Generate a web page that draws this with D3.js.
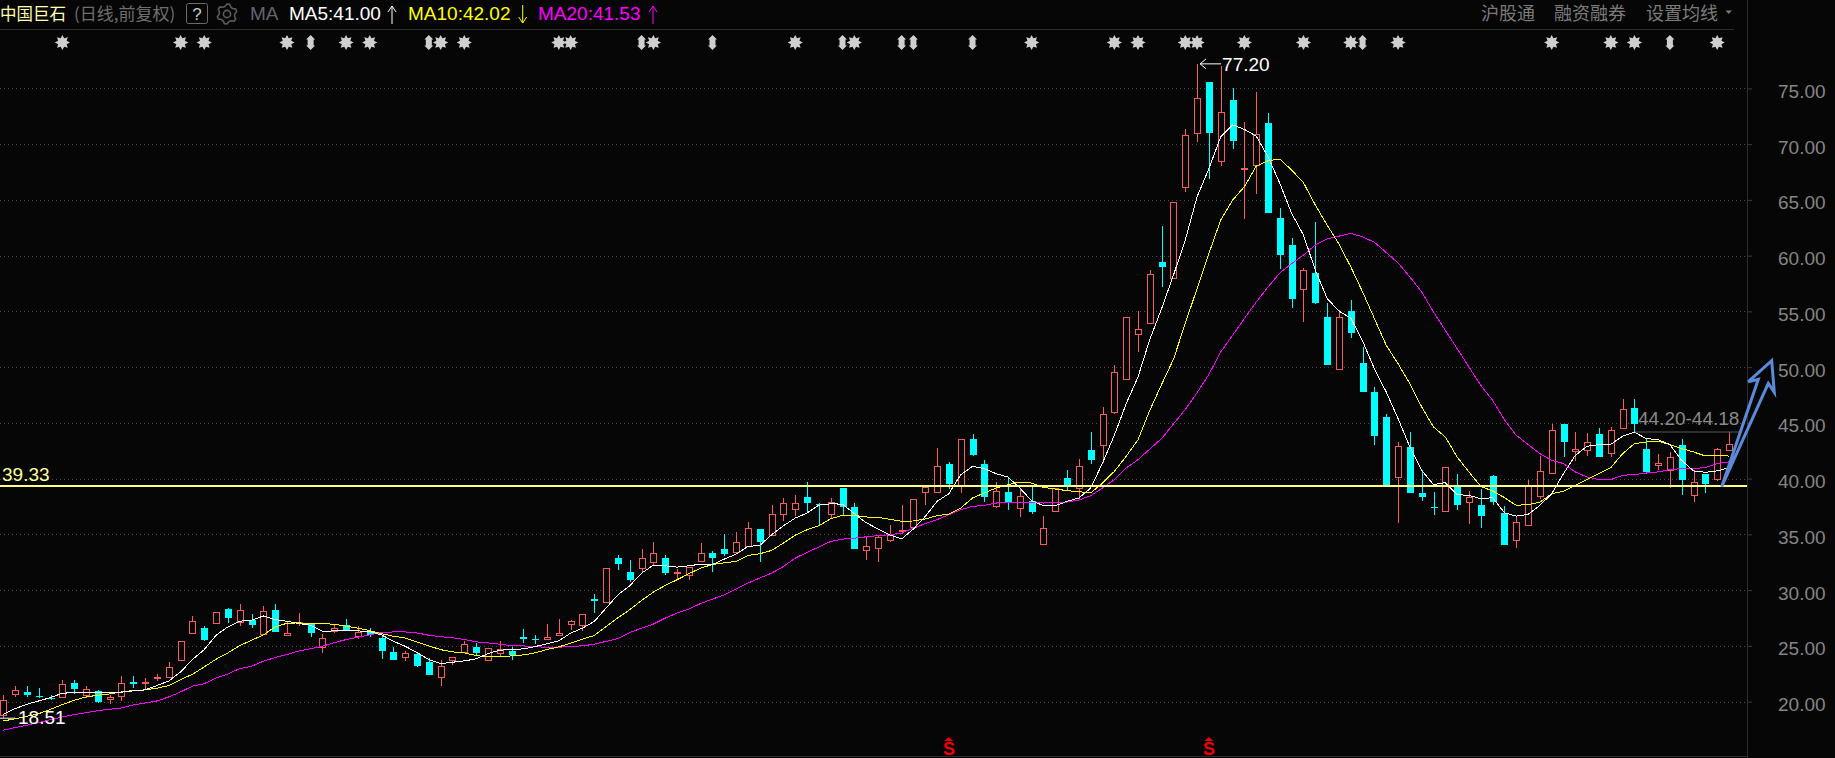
<!DOCTYPE html>
<html lang="zh-CN">
  <head>
    <meta charset="UTF-8" />
    <title>中国巨石 日线</title>
    <script src="https://d3js.org/d3.v7.min.js"></script>
    <style>
      html, body { margin: 0; padding: 0; background: #060606; overflow: hidden; }
      svg { display: block; }
      text { font-family: "Liberation Sans", Arial, sans-serif; }
      .cjk { font-family: "Noto Sans CJK SC", sans-serif; }
    </style>
  </head>
  <body>
    <svg width="1835" height="758"></svg>

    <script>
      // daily candles
      const opens = [
        18.80,20.72,20.84,20.54,20.33,20.42,21.64,20.60,20.93,20.27,
        20.51,21.73,21.67,22.15,22.21,23.77,26.16,26.58,27.06,28.28,
        27.18,27.36,26.10,28.19,25.98,27.06,26.94,24.93,26.37,26.91,
        25.89,26.28,25.74,24.49,24.01,24.31,23.59,22.21,23.71,24.49,
        24.94,23.71,24.37,24.58,25.75,25.57,25.63,26.02,26.92,26.83,
        29.22,28.89,32.90,31.64,31.94,32.48,32.90,31.49,31.32,32.57,
        33.35,33.71,33.38,33.98,35.50,34.96,36.79,37.24,38.37,37.74,
        36.79,39.18,37.48,33.56,33.74,34.55,35.27,35.63,38.77,38.77,
        41.34,39.46,43.58,41.34,37.51,38.83,37.33,37.99,34.10,37.06,
        40.08,39.13,42.59,43.01,46.00,48.97,53.00,53.99,59.46,57.93,
        66.09,70.93,75.57,68.42,73.95,67.79,68.12,71.89,63.37,60.95,
        56.94,58.44,54.47,49.83,55.00,50.34,47.74,45.50,40.15,42.81,
        38.68,37.49,37.10,39.31,37.90,37.60,40.21,36.89,34.50,35.78,
        38.45,40.57,44.87,42.51,42.60,43.98,42.30,44.54,46.31,42.63,
        41.26,40.81,42.99,38.56,40.39,39.91,42.60
      ];
      const closes = [
        20.18,21.08,20.60,20.48,20.27,21.58,21.11,21.17,19.94,20.45,
        21.70,21.58,21.79,22.24,23.14,25.47,27.27,25.50,28.07,27.50,
        28.25,26.88,28.16,26.25,26.19,27.18,26.16,25.74,26.64,26.37,
        26.25,25.98,24.54,23.74,24.40,23.23,22.45,23.23,24.01,25.18,
        24.40,24.82,24.73,24.25,25.57,25.51,25.81,26.17,27.22,27.85,
        29.04,31.97,32.36,30.93,32.87,33.32,31.55,31.61,32.06,33.32,
        32.90,33.23,34.31,35.56,34.34,36.82,37.80,37.80,37.83,37.65,
        37.86,37.48,33.71,33.95,34.76,34.97,35.39,38.17,39.25,41.13,
        39.54,43.55,42.15,38.38,38.89,37.90,38.44,37.03,35.57,39.16,
        39.37,41.13,41.70,45.80,49.59,54.53,53.45,58.39,58.98,64.77,
        70.78,74.10,70.99,72.85,70.28,67.85,70.87,63.82,60.05,56.10,
        58.67,55.74,50.16,54.53,53.03,47.74,43.79,39.31,42.96,38.68,
        38.32,37.37,41.07,37.60,38.38,36.62,37.87,34.02,36.14,39.31,
        40.72,44.40,43.26,42.69,43.32,41.91,44.40,46.28,44.90,40.57,
        41.44,41.97,39.88,39.73,39.49,42.63,43.14
      ];
      const highs = [
        20.57,21.38,21.38,21.20,20.57,21.91,21.91,21.38,21.02,20.60,
        22.27,22.27,22.09,22.51,23.53,25.47,27.65,26.76,28.07,28.37,
        28.73,27.83,28.55,28.73,27.18,27.92,27.06,26.04,27.00,27.39,
        26.76,26.58,25.95,24.87,24.51,24.37,23.95,23.71,24.01,25.45,
        25.30,24.82,25.45,24.94,26.55,25.93,27.00,27.45,27.34,27.85,
        29.67,31.97,33.14,32.72,33.71,34.34,33.14,31.88,32.06,34.25,
        33.53,35.05,35.23,36.13,35.50,37.65,38.28,38.55,39.72,37.83,
        38.25,39.18,37.83,34.76,34.97,35.84,37.66,38.17,39.46,42.77,
        41.52,43.55,44.03,41.70,39.69,40.08,39.10,39.28,36.67,39.16,
        40.80,41.79,44.21,46.40,50.16,54.53,55.00,58.68,62.65,64.77,
        71.35,77.20,75.57,77.00,75.03,71.98,74.67,72.79,64.27,61.57,
        58.88,63.01,55.72,55.10,55.99,51.78,48.19,45.77,43.26,44.15,
        40.74,38.77,41.07,40.38,38.86,39.04,40.30,37.52,36.62,39.85,
        42.00,44.87,44.93,44.16,44.07,44.51,44.60,47.12,47.12,43.53,
        42.18,42.36,43.53,40.75,40.39,42.72,44.16
      ];
      const lows = [
        18.51,20.42,20.42,20.30,20.18,20.36,20.72,20.33,19.88,19.79,
        20.06,21.26,21.08,21.85,22.15,23.77,26.04,25.41,26.97,27.03,
        26.76,26.58,26.04,26.22,25.98,26.76,25.77,24.34,26.13,26.34,
        25.59,25.77,23.80,23.71,23.62,23.08,22.36,21.38,23.27,24.49,
        24.22,23.71,24.01,23.77,25.30,25.21,25.63,26.02,26.44,26.29,
        27.97,28.89,31.82,30.75,31.64,32.18,31.38,31.02,30.93,32.57,
        31.64,33.08,33.38,33.98,32.54,34.96,36.22,36.61,36.94,35.86,
        36.37,36.73,33.71,32.73,32.55,34.34,35.00,35.63,37.66,38.77,
        39.10,38.74,42.06,37.93,37.39,37.21,36.58,36.85,34.10,37.06,
        38.92,38.11,41.34,41.40,45.80,48.97,51.33,53.99,57.19,57.93,
        65.73,70.19,66.87,68.03,69.56,63.28,65.52,63.82,58.79,55.30,
        54.04,55.65,50.16,49.83,52.58,47.74,42.99,39.31,35.99,38.68,
        37.96,36.71,37.10,37.16,35.90,35.54,37.60,34.02,33.75,35.78,
        38.15,40.57,41.91,41.58,42.00,41.91,41.91,44.54,44.22,40.39,
        40.75,39.13,38.50,37.88,38.68,39.76,42.60
      ];

      // moving averages
      const ma5 = [
        18.86,19.37,19.76,20.06,20.36,20.75,20.81,20.81,20.78,20.78,
        20.84,20.96,21.05,21.44,21.85,22.66,23.77,24.66,25.95,26.70,
        27.21,27.30,27.68,27.36,27.21,27.00,26.85,26.31,26.34,26.37,
        26.34,26.28,25.98,25.41,24.96,24.40,23.77,23.41,23.53,23.65,
        23.83,24.31,24.61,24.67,24.73,24.94,25.18,25.45,26.14,26.59,
        27.19,28.39,29.58,30.39,31.52,32.24,32.18,32.06,32.18,32.33,
        32.30,32.78,33.23,33.92,34.01,34.96,35.77,36.46,36.91,37.62,
        37.74,37.71,36.85,36.05,35.49,34.95,34.59,35.48,36.61,37.96,
        38.65,40.35,41.10,40.89,40.44,40.14,39.16,38.02,37.57,37.57,
        37.96,38.26,39.16,41.40,43.90,46.72,49.12,52.48,55.26,58.25,
        61.40,65.28,67.82,70.66,71.74,71.32,70.72,68.87,66.48,63.79,
        61.84,58.70,56.16,55.03,54.40,52.34,49.86,47.77,45.38,42.84,
        40.74,39.46,39.64,38.56,38.50,38.20,38.29,36.94,36.63,36.79,
        37.60,38.65,40.45,42.09,42.90,43.05,43.08,43.80,44.16,43.59,
        43.50,43.05,41.64,40.69,40.57,40.69,40.97
      ];
      const ma10 = [
        18.27,18.45,18.68,18.92,19.31,19.73,20.12,20.42,20.57,20.69,
        20.87,20.99,21.05,21.20,21.44,21.97,22.45,23.11,23.80,24.37,
        25.02,25.50,25.98,26.70,27.03,27.06,27.00,27.00,26.94,26.76,
        26.58,26.37,26.10,25.86,25.71,25.35,25.00,24.66,24.46,24.37,
        24.13,24.01,24.01,24.10,24.19,24.37,24.67,24.91,25.25,25.60,
        25.93,26.74,27.52,28.24,29.07,29.82,30.42,30.93,31.47,31.97,
        32.30,32.45,32.57,33.11,33.26,33.56,34.22,34.93,35.41,35.77,
        36.40,36.70,36.70,36.56,36.52,36.35,36.17,36.20,36.38,36.67,
        36.82,37.36,38.26,38.71,39.16,39.46,39.69,39.60,39.22,39.07,
        38.92,38.83,38.71,39.60,40.65,42.00,43.49,46.13,48.46,50.70,
        53.92,57.06,60.20,63.19,64.98,66.18,68.03,68.51,68.66,67.67,
        66.54,64.54,62.74,61.04,59.00,56.75,54.36,51.96,50.31,48.52,
        46.43,44.63,43.73,41.94,40.59,39.31,38.89,38.30,37.60,37.68,
        37.88,38.65,38.86,39.40,39.94,40.45,40.99,42.24,43.14,43.29,
        43.35,43.05,42.69,42.39,42.03,42.09,42.02
      ];
      const ma20 = [
        17.43,17.67,17.88,18.12,18.39,18.62,18.83,19.01,19.19,19.31,
        19.43,19.70,19.88,20.06,20.42,20.87,21.38,21.61,22.12,22.48,
        22.96,23.17,23.62,23.95,24.22,24.54,24.75,24.96,25.29,25.56,
        25.77,25.98,26.19,26.25,26.25,26.16,25.95,25.82,25.72,25.57,
        25.36,25.27,25.15,25.00,25.00,24.91,24.88,24.88,24.95,25.00,
        25.15,25.40,25.66,26.20,26.59,26.95,27.49,27.94,28.30,28.80,
        29.19,29.58,30.12,30.63,31.08,31.52,32.12,32.87,33.38,33.86,
        34.37,34.57,34.66,34.78,34.89,34.97,35.12,35.57,35.96,36.32,
        36.76,37.21,37.51,37.60,37.81,37.90,37.90,37.87,37.81,37.90,
        37.90,38.08,38.47,39.16,39.90,40.95,41.70,42.65,43.60,44.90,
        46.20,47.70,49.36,51.36,52.85,54.35,55.84,57.19,58.45,59.28,
        60.05,60.95,61.49,61.75,61.99,61.69,61.20,60.28,59.35,58.09,
        56.74,54.95,53.30,51.66,50.01,48.37,47.02,45.28,43.88,43.07,
        42.24,41.64,41.35,40.60,40.15,39.91,39.91,40.30,40.36,40.51,
        40.60,40.81,40.90,40.90,40.99,41.35,41.50
      ];

      const priceTicks = [20, 25, 30, 35, 40, 45, 50, 55, 60, 65, 70, 75];
      const supportPrice = 39.33;
      // info markers along the top row and the red ones at the bottom (candle index)
      const starDays = [5, 15, 17, 24, 29, 31, 37, 39, 47, 48, 55, 67, 72, 87, 94, 96, 100, 101, 105, 110, 114, 118, 131, 136, 138, 145];
      const arrowDays = [26, 36, 54, 60, 71, 76, 77, 82, 115, 141];
      const dollarDays = [80, 102];
      const maLegend = [
        { label: "MA5:41.00", color: "#ffffff", dir: "up" },
        { label: "MA10:42.02", color: "#ffff00", dir: "down" },
        { label: "MA20:41.53", color: "#ff00ff", dir: "up" }
      ];

      const UP = "#f75c5c";
      const DOWN = "#00ffff";
      const BG = "#060606";
      const AXIS_X = 1747;

      const svg = d3.select("svg");

      const x = d3.scaleLinear().domain([0, opens.length - 1]).range([3.3, 1729]);
      const y = d3.scaleLinear().domain([20, 75]).range([701.6, 88.4]);
      const px = (i) => Math.round(x(i));

      // frame lines
      svg.append("line").attr("x1", 0).attr("x2", 1734).attr("y1", 29.5).attr("y2", 29.5).attr("stroke", "#2b2b2b");
      svg.append("line").attr("x1", 0).attr("x2", AXIS_X).attr("y1", 756.5).attr("y2", 756.5).attr("stroke", "#2b2b2b");
      svg.append("line").attr("x1", AXIS_X + 0.5).attr("x2", AXIS_X + 0.5).attr("y1", 0).attr("y2", 758).attr("stroke", "#2b2b2b");

      // grid
      svg.append("g")
        .selectAll("line")
        .data(priceTicks)
        .join("line")
        .attr("x1", 0)
        .attr("x2", AXIS_X - 2)
        .attr("y1", (d) => Math.round(y(d)) + 0.5)
        .attr("y2", (d) => Math.round(y(d)) + 0.5)
        .attr("stroke", "#4a4a4a")
        .attr("stroke-dasharray", "1 3");

      // right axis
      const axis = d3.axisRight(y)
        .tickValues(priceTicks)
        .tickSize(5)
        .tickPadding(26)
        .tickFormat(d3.format(".2f"));
      const axisG = svg.append("g").attr("transform", `translate(${AXIS_X},0)`).call(axis);
      axisG.select(".domain").remove();
      axisG.selectAll("line").attr("stroke", "#3a3a3a");
      axisG.selectAll("text")
        .attr("fill", "#858585")
        .attr("dy", "0.47em")
        .style("font-size", "19px")
        .style("font-family", '"Liberation Sans", Arial, sans-serif');

      // candles
      const days = d3.range(opens.length);
      const isUp = (i) => closes[i] >= opens[i];
      const candles = svg.append("g").attr("shape-rendering", "crispEdges");

      candles.selectAll(".wick-top")
        .data(days)
        .join("line")
        .attr("x1", (i) => px(i) + 0.5)
        .attr("x2", (i) => px(i) + 0.5)
        .attr("y1", (i) => y(highs[i]))
        .attr("y2", (i) => y(Math.max(opens[i], closes[i])))
        .attr("stroke", (i) => (isUp(i) ? UP : DOWN));
      candles.selectAll(".wick-low")
        .data(days)
        .join("line")
        .attr("x1", (i) => px(i) + 0.5)
        .attr("x2", (i) => px(i) + 0.5)
        .attr("y1", (i) => y(Math.min(opens[i], closes[i])))
        .attr("y2", (i) => y(lows[i]))
        .attr("stroke", (i) => (isUp(i) ? UP : DOWN));
      candles.selectAll("rect")
        .data(days)
        .join("rect")
        .attr("x", (i) => (isUp(i) ? px(i) - 2.5 : px(i) - 3))
        .attr("width", (i) => (isUp(i) ? 6 : 7))
        .attr("y", (i) => Math.round(y(Math.max(opens[i], closes[i]))) + (isUp(i) ? 0.5 : 0))
        .attr("height", (i) => Math.max(1, Math.round(Math.abs(y(opens[i]) - y(closes[i])))))
        .attr("fill", (i) => (isUp(i) ? BG : DOWN))
        .attr("stroke", (i) => (isUp(i) ? UP : "none"));

      // moving averages, hard edged like the trading terminal draws them
      const maLine = d3.line().x((d, i) => x(i)).y((d) => y(d));
      [[ma20, "#ff00ff"], [ma10, "#ffff00"], [ma5, "#ffffff"]].forEach(([values, color]) => {
        svg.append("path")
          .attr("d", maLine(values))
          .attr("fill", "none")
          .attr("stroke", color)
          .attr("stroke-width", 1)
          .attr("shape-rendering", "crispEdges");
      });

      // support line
      svg.append("line")
        .attr("x1", 0)
        .attr("x2", AXIS_X)
        .attr("y1", y(supportPrice))
        .attr("y2", y(supportPrice))
        .attr("stroke", "#ffff88")
        .attr("stroke-width", 2);
      svg.append("text")
        .attr("x", 2)
        .attr("y", y(supportPrice) - 5)
        .attr("fill", "#ffff99")
        .style("font-size", "19px")
        .text(supportPrice.toFixed(2));

      // high / low notes
      const hiY = y(77.2);
      svg.append("path")
        .attr("d", `M${x(101) + 9},${hiY - 5} L${x(101) + 3},${hiY} L${x(101) + 9},${hiY + 5} M${x(101) + 3},${hiY} H${x(101) + 24}`)
        .attr("fill", "none")
        .attr("stroke", "#ffffff");
      svg.append("text")
        .attr("x", x(101) + 25)
        .attr("y", hiY + 7)
        .attr("fill", "#ffffff")
        .style("font-size", "19px")
        .text("77.20");

      const loY = y(18.51);
      svg.append("line").attr("x1", 0).attr("x2", 15).attr("y1", loY).attr("y2", loY).attr("stroke", "#ffffff");
      svg.append("text")
        .attr("x", 18)
        .attr("y", loY + 6)
        .attr("fill", "#ffffff")
        .style("font-size", "19px")
        .text("18.51");

      // range note on the right
      svg.append("line")
        .attr("x1", 1635)
        .attr("x2", 1740)
        .attr("y1", y(44.18))
        .attr("y2", y(44.18))
        .attr("stroke", "#555555");
      svg.append("text")
        .attr("x", 1638)
        .attr("y", y(44.18) - 7)
        .attr("fill", "#8a8a8a")
        .style("font-size", "19px")
        .text("44.20-44.18");

      // top info markers
      const starPath = d3.lineRadial().curve(d3.curveLinearClosed)(
        d3.range(16).map((k) => [(k * Math.PI) / 8, k % 2 ? 4.6 : 7.6])
      );
      svg.append("g")
        .selectAll("path")
        .data(starDays)
        .join("path")
        .attr("d", starPath)
        .attr("transform", (d) => `translate(${x(d)},42.5)`)
        .attr("fill", "#cfcfcf");
      svg.append("g")
        .selectAll("path")
        .data(arrowDays)
        .join("path")
        .attr("d", "M0,-7.5 L4.5,-3 L3,-3 L3,3 L4.5,3 L0,7.5 L-4.5,3 L-3,3 L-3,-3 L-4.5,-3 Z")
        .attr("transform", (d) => `translate(${x(d)},42.5)`)
        .attr("fill", "#cfcfcf");

      // red markers at the bottom
      const dollars = svg.append("g").selectAll("g").data(dollarDays).join("g")
        .attr("transform", (d) => `translate(${x(d)},0)`);
      dollars.append("path").attr("d", "M-4.5,741 L0,737 L4.5,741 Z").attr("fill", "#f00000");
      dollars.append("text")
        .attr("y", 754.5)
        .attr("text-anchor", "middle")
        .attr("fill", "#f00000")
        .style("font-size", "18px")
        .style("font-weight", "bold")
        .text("S");

      // hand drawn blue arrow
      svg.append("path")
        .attr("d", "M1721.7,486.7 L1758.3,379.3 L1748.3,381.7 L1771.7,360.7 L1774.3,392.3 L1768.3,383.3 Z")
        .attr("fill", "none")
        .attr("stroke", "#5a8ad8")
        .attr("stroke-width", 3)
        .attr("stroke-linejoin", "miter");

      // header
      const header = svg.append("g");
      header.append("text").attr("class", "cjk").attr("x", 0).attr("y", 20)
        .attr("fill", "#ffffb0").style("font-size", "16.5px").text("中国巨石");
      header.append("text").attr("class", "cjk").attr("x", 74).attr("y", 20)
        .attr("fill", "#6e6e6e").style("font-size", "17px").text("(日线,前复权)");
      header.append("rect").attr("x", 186.5).attr("y", 3.5).attr("width", 21).attr("height", 20).attr("rx", 2)
        .attr("fill", "none").attr("stroke", "#6a6a6a");
      header.append("text").attr("x", 197).attr("y", 20).attr("text-anchor", "middle")
        .attr("fill", "#c8c8c8").style("font-size", "17px").text("?");

      // gear icon
      const gearPath = d3.lineRadial().curve(d3.curveLinearClosed)(
        d3.range(24).map((k) => [(k * Math.PI) / 12, k % 4 < 2 ? 10 : 7.8])
      );
      header.append("path").attr("d", gearPath).attr("transform", "translate(227,14)")
        .attr("fill", "none").attr("stroke", "#5a5a5a").attr("stroke-width", 1.6);
      header.append("circle").attr("cx", 227).attr("cy", 14).attr("r", 3.6)
        .attr("fill", "none").attr("stroke", "#5a5a5a").attr("stroke-width", 1.6);
      header.append("text").attr("x", 250).attr("y", 20).attr("fill", "#5f6670")
        .style("font-size", "19px").text("MA");

      const legendX = [289, 408, 538];
      const arrowX = [392, 522.7, 653];
      maLegend.forEach((m, k) => {
        header.append("text").attr("x", legendX[k]).attr("y", 20).attr("fill", m.color)
          .style("font-size", "19px").text(m.label);
        const a = arrowX[k];
        const d = m.dir === "up"
          ? `M${a},24 V6 M${a - 4},12 L${a},6 L${a + 4},12`
          : `M${a},5 V23 M${a - 4},17 L${a},23 L${a + 4},17`;
        header.append("path").attr("d", d).attr("fill", "none").attr("stroke", m.color);
      });

      [["沪股通", 1481], ["融资融券", 1554], ["设置均线", 1646]].forEach(([label, lx]) => {
        header.append("text").attr("class", "cjk").attr("x", lx).attr("y", 20)
          .attr("fill", "#7b7b7b").style("font-size", "18px").text(label);
      });
      header.append("path").attr("d", "M1725.5,10.5 L1732,10.5 L1728.7,14 Z").attr("fill", "#7b7b7b");
    </script>
  </body>
</html>
